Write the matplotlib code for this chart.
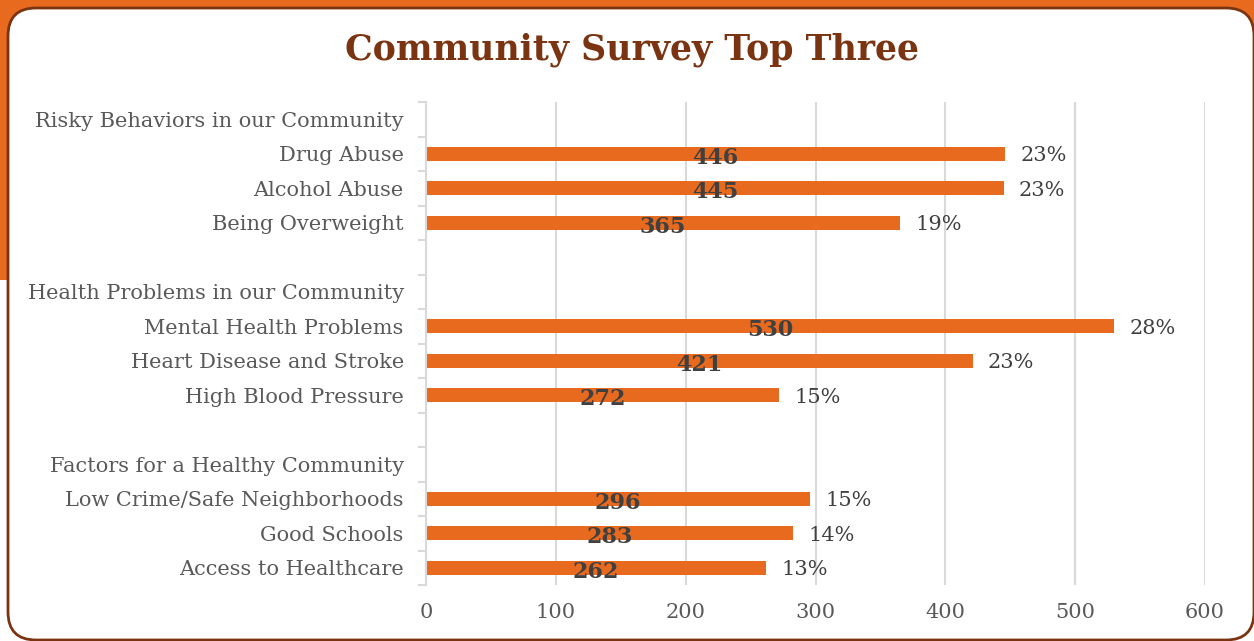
import numpy as np
import matplotlib
matplotlib.use("Agg")
import matplotlib.pyplot as plt
from matplotlib.patches import Rectangle, FancyBboxPatch
from matplotlib.transforms import IdentityTransform

# rows from top to bottom; group headers and spacer rows have no value
labels = ["Risky Behaviors in our Community", "Drug Abuse", "Alcohol Abuse", "Being Overweight", "",
          "Health Problems in our Community", "Mental Health Problems", "Heart Disease and Stroke",
          "High Blood Pressure", "",
          "Factors for a Healthy Community", "Low Crime/Safe Neighborhoods", "Good Schools",
          "Access to Healthcare"]
counts = [None, 446, 445, 365, None, None, 530, 421, 272, None, None, 296, 283, 262]
percents = [None, 23, 23, 19, None, None, 28, 23, 15, None, None, 15, 14, 13]
xticks = [0, 100, 200, 300, 400, 500, 600]

orange = "#E86A1F"
brown = "#7B3411"
grid_grey = "#D9D9D9"
text_grey = "#595959"
dark = "#404040"
font = "DejaVu Serif"

W, H = 1254, 641
fig = plt.figure(figsize=(W / 100, H / 100), dpi=100)

# orange backdrop and white rounded panel
fig.patches.append(Rectangle((0, H - 280), W, 280, transform=IdentityTransform(),
                             facecolor=orange, edgecolor="none", zorder=-3))
fig.patches.append(FancyBboxPatch((8, 1), 1246, H - 9, boxstyle="round,pad=0,rounding_size=28",
                                  transform=IdentityTransform(), facecolor="white",
                                  edgecolor=brown, linewidth=2, zorder=-2))

ax = fig.add_axes([426 / W, 1 - 585 / H, (1205 - 426) / W, (585 - 102) / H])
ax.set_facecolor("none")

ys = np.arange(len(labels))
for y, c, p in zip(ys, counts, percents):
    if c is None:
        continue
    ax.barh(y, c, height=0.41, color=orange, zorder=2)
    ax.text(c / 2, y + 0.12, str(c), ha="center", va="center", fontsize=16,
            fontweight="bold", color=dark, family=font, zorder=3)
    ax.annotate(f"{p}%", (c, y + 0.06), xytext=(11, 0), textcoords="offset points",
                ha="left", va="center", fontsize=15, color=dark, family=font)

ax.set_xlim(0, 600)
ax.set_ylim(len(labels) - 0.5, -0.5)
ax.set_xticks(xticks)
ax.set_xticklabels([str(t) for t in xticks], family=font, fontsize=15, color=text_grey)
ax.set_yticks(ys)
ax.set_yticklabels(labels, family=font, fontsize=15, color=text_grey)
ax.set_yticks(np.arange(-0.5, len(labels)), minor=True)
ax.tick_params(axis="y", which="major", length=0, pad=16)
ax.tick_params(axis="y", which="minor", length=6, color=grid_grey, width=1.5)
ax.tick_params(axis="x", length=0, pad=13)

for s in ["top", "right", "bottom"]:
    ax.spines[s].set_visible(False)
ax.spines["left"].set_color(grid_grey)
ax.spines["left"].set_linewidth(1.5)
ax.grid(axis="x", color=grid_grey, linewidth=1.5, zorder=0)
ax.set_axisbelow(True)

fig.text(632 / W, 1 - 50 / H, "Community Survey Top Three", ha="center", va="center",
         fontsize=25, fontweight="bold", color=brown, family=font)

fig.savefig("out.png", dpi=100)
